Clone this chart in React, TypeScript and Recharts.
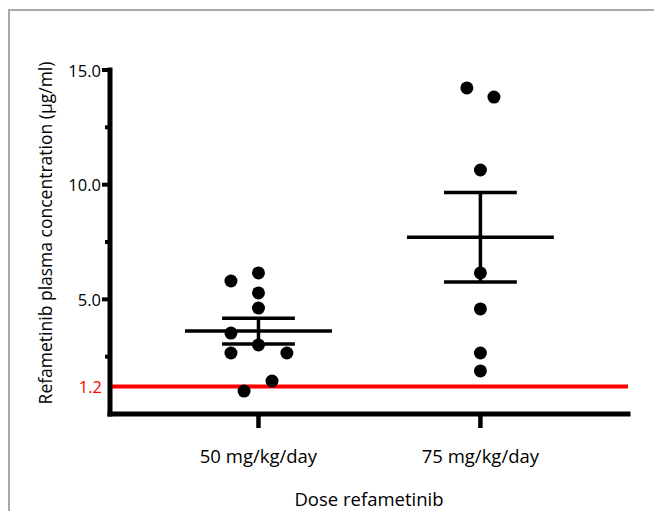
import React from 'react';
import { ComposedChart, Scatter, XAxis, YAxis, ReferenceLine, Label } from 'recharts';

const categories = ['50 mg/kg/day', '75 mg/kg/day'];
const dose50Values = [5.8, 6.15, 5.28, 4.62, 3.53, 3.01, 2.66, 2.66, 1.44, 1.0];
const dose50Jitter = [-0.124, 0, 0, 0, -0.124, 0, -0.124, 0.128, 0.061, -0.065];
const dose75Values = [14.22, 13.82, 10.64, 6.15, 4.58, 2.66, 1.88];
const dose75Jitter = [-0.061, 0.061, 0, 0, 0, 0, 0];
const yTicks = [1.2, 2.5, 5, 7.5, 10, 12.5, 15];
const majorTicks = [5, 10, 15];
const threshold = 1.2;

const FONT = '"Open Sans", sans-serif';

const stats = (vals: number[]) => {
  const n = vals.length;
  const mean = vals.reduce((a, b) => a + b, 0) / n;
  const sd = Math.sqrt(vals.reduce((a, b) => a + (b - mean) ** 2, 0) / (n - 1));
  return { mean, sem: sd / Math.sqrt(n) };
};

const groups = [
  { values: dose50Values, jitter: dose50Jitter },
  { values: dose75Values, jitter: dose75Jitter },
].map((g, gi) => ({
  points: g.values.map((v, i) => ({ x: gi + g.jitter[i], y: v })),
  ...stats(g.values),
  x: gi,
}));

const MEAN_HALF = 0.331;
const CAP_HALF = 0.164;

const Dot = (props: any) => <circle cx={props.cx} cy={props.cy} r={6.5} fill="#000" />;

const YTick = (props: any) => {
  const { x, y, payload } = props;
  const v = payload.value;
  if (v === threshold) {
    return (
      <text x={x - 8} y={y} textAnchor="end" dominantBaseline="central" fontSize={16.5} fontFamily={FONT} fill="#ff0000">
        {v.toFixed(1)}
      </text>
    );
  }
  const major = majorTicks.includes(v);
  return (
    <g>
      <line x1={x - (major ? 8 : 5)} x2={x} y1={y} y2={y} stroke="#000" strokeWidth={4} />
      {major && (
        <text x={x - 9} y={y} textAnchor="end" dominantBaseline="central" fontSize={16.5} fontFamily={FONT} fill="#000">
          {v.toFixed(1)}
        </text>
      )}
    </g>
  );
};

const XTick = (props: any) => {
  const { x, y, payload } = props;
  return (
    <g>
      <line x1={x} x2={x} y1={y} y2={y + 14} stroke="#000" strokeWidth={4.5} />
      <text x={x} y={y + 41} textAnchor="middle" dominantBaseline="central" fontSize={18.5} fontFamily={FONT} fill="#000">
        {categories[payload.value]}
      </text>
    </g>
  );
};

export default function App() {
  return (
    <div style={{ position: 'absolute', left: 0, top: 0, width: 654, height: 511, background: '#fff' }}>
      <div
        style={{
          position: 'absolute',
          left: 8,
          top: 9,
          width: 660,
          height: 520,
          borderTop: '2px solid #a8a8a8',
          borderLeft: '2px solid #a8a8a8',
        }}
      />
      <div style={{ position: 'absolute', left: 0, top: 0 }}>
        <ComposedChart width={654} height={511} margin={{ top: 70, right: 26, bottom: 0, left: 0 }}>
          <XAxis
            type="number"
            dataKey="x"
            domain={[-0.669, 1.665]}
            ticks={[0, 1]}
            interval={0}
            allowDataOverflow
            height={97}
            axisLine={{ stroke: '#000', strokeWidth: 5, strokeLinecap: 'square' }}
            tickLine={false}
            tickSize={0}
            tickMargin={0}
            tick={<XTick />}
          >
            <Label
              value="Dose refametinib"
              position="insideBottom"
              offset={5}
              style={{ fontSize: 18.5, fontFamily: FONT, fill: '#000' }}
            />
          </XAxis>
          <YAxis
            type="number"
            dataKey="y"
            domain={[0, 15]}
            ticks={yTicks}
            interval={0}
            allowDataOverflow
            width={110}
            axisLine={{ stroke: '#000', strokeWidth: 5, strokeLinecap: 'square' }}
            tickLine={false}
            tickSize={0}
            tickMargin={0}
            tick={<YTick />}
          >
            <Label
              content={() => (
                <text
                  transform="translate(45,233) rotate(-90)"
                  textAnchor="middle"
                  dominantBaseline="central"
                  fontSize={17.5}
                  fontFamily={FONT}
                  fill="#000"
                >
                  Refametinib plasma concentration (µg/ml)
                </text>
              )}
            />
          </YAxis>
          <ReferenceLine y={threshold} stroke="#ff0000" strokeWidth={4} ifOverflow="visible" />
          {groups.map((g, i) => (
            <ReferenceLine
              key={'m' + i}
              segment={[{ x: g.x - MEAN_HALF, y: g.mean }, { x: g.x + MEAN_HALF, y: g.mean }]}
              stroke="#000"
              strokeWidth={3.5}
              ifOverflow="visible"
            />
          ))}
          {groups.map((g, i) => (
            <ReferenceLine
              key={'v' + i}
              segment={[{ x: g.x, y: g.mean - g.sem }, { x: g.x, y: g.mean + g.sem }]}
              stroke="#000"
              strokeWidth={3.5}
              ifOverflow="visible"
            />
          ))}
          {groups.map((g, i) => (
            <ReferenceLine
              key={'u' + i}
              segment={[{ x: g.x - CAP_HALF, y: g.mean + g.sem }, { x: g.x + CAP_HALF, y: g.mean + g.sem }]}
              stroke="#000"
              strokeWidth={3.5}
              ifOverflow="visible"
            />
          ))}
          {groups.map((g, i) => (
            <ReferenceLine
              key={'l' + i}
              segment={[{ x: g.x - CAP_HALF, y: g.mean - g.sem }, { x: g.x + CAP_HALF, y: g.mean - g.sem }]}
              stroke="#000"
              strokeWidth={3.5}
              ifOverflow="visible"
            />
          ))}
          {groups.map((g, i) => (
            <Scatter key={'s' + i} data={g.points} dataKey="y" shape={<Dot />} isAnimationActive={false} />
          ))}
        </ComposedChart>
      </div>
    </div>
  );
}
